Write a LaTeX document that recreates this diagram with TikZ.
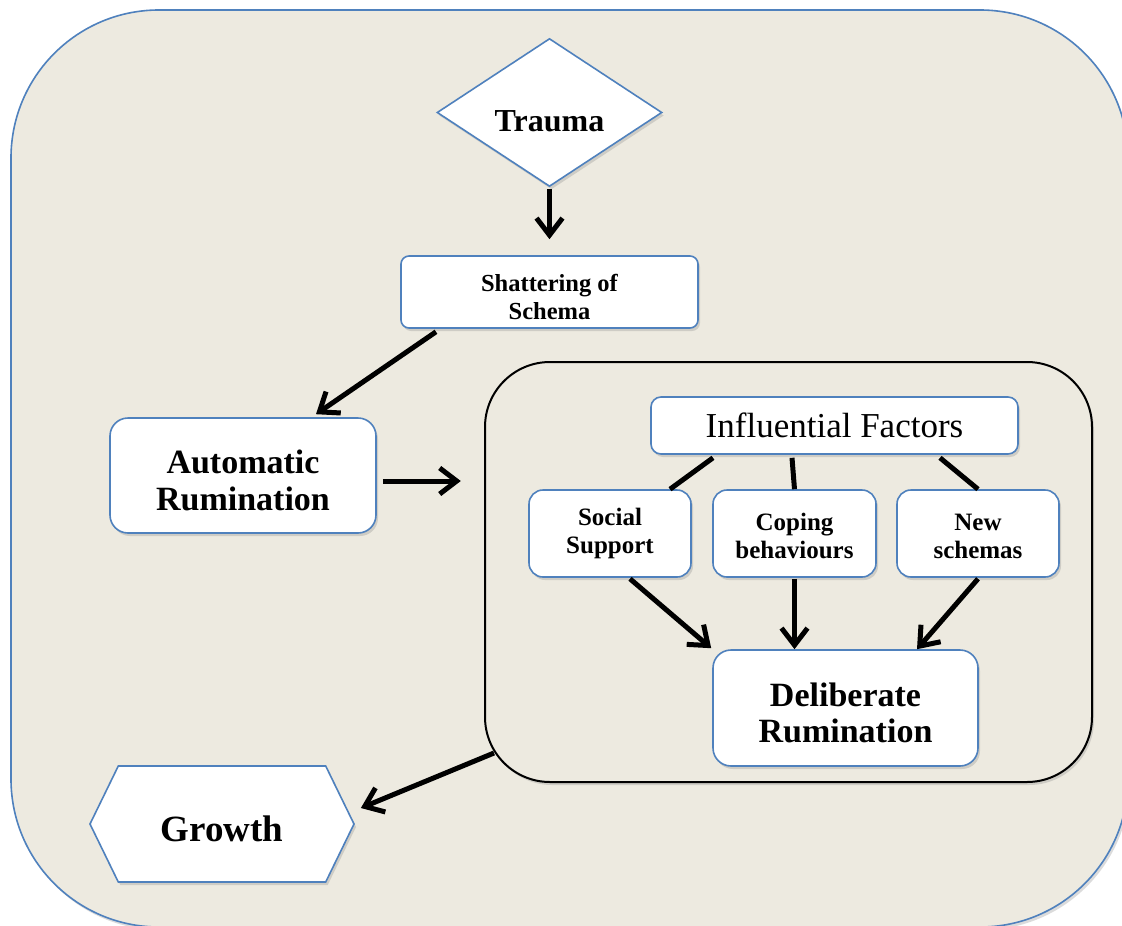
\documentclass[tikz,border=0pt]{standalone}
\usepackage{fontspec}
\setmainfont{Liberation Serif}
\usetikzlibrary{shapes.geometric,shapes.symbols,arrows.meta,shadows,calc}
\definecolor{bg}{HTML}{EDEAE0}
\definecolor{bblue}{HTML}{4F81BD}
\newcommand{\dn}[1]{\rule{0pt}{#1}}
\begin{document}
\begin{tikzpicture}[x=1pt,y=-1pt,
  shd/.style={drop shadow={opacity=0.28,shadow xshift=2pt,shadow yshift=-3pt}},
  box/.style={draw=bblue, line width=1.6pt, fill=white, rounded corners=#1,
    inner sep=0pt, align=center, shd},
  box/.default=12pt,
  arr/.style={line width=5pt, -{Straight Barb[length=17pt,width=26pt,line width=5pt]}},
  ln/.style={line width=5pt},
  fbig/.style={font=\fontsize{34}{36.5}\selectfont\bfseries},
  fmid/.style={font=\fontsize{24.5}{28}\selectfont\bfseries},
  fsm/.style={font=\fontsize{25}{27.5}\selectfont\bfseries},
]
\clip (0,0) rectangle (1122,926);
\fill[white] (0,0) rectangle (1122,926);
% outer panel
\path[draw=bblue, line width=1.6pt, fill=bg, rounded corners=148pt, shd] (11,10) rectangle (1128,927);

% inner frame
\node[draw=black, line width=2pt, fill=bg, rounded corners=65pt, minimum width=607pt,
  minimum height=420pt, inner sep=0pt, shd] (frame) at (788.5,572) {};

% nodes
\node[draw=bblue, line width=1.6pt, fill=white, shape=diamond, minimum width=225pt,
  minimum height=145pt, inner sep=0pt, shd, font=\fontsize{32}{36}\selectfont\bfseries]
  (trauma) at (549.5,112.5) {\dn{38pt}Trauma};
\node[box=8pt, minimum width=297pt, minimum height=72pt, fmid] (shatter) at (549.5,292)
  {\dn{27pt}Shattering of\\Schema};
\node[box=18pt, minimum width=266pt, minimum height=115pt, fbig] (auto) at (243,475.5)
  {\dn{33pt}Automatic\\Rumination};
\node[box=10pt, minimum width=367pt, minimum height=57pt,
  font=\fontsize{35}{38}\selectfont] (influ) at (834.5,425.5) {Influential Factors};
\node[box=14pt, minimum width=162pt, minimum height=87pt, fsm] (social) at (610,533.5)
  {Social\\Support};
\node[box=14pt, minimum width=163pt, minimum height=87pt, fsm] (coping) at (794.5,533.5)
  {\dn{22pt}Coping\\behaviours};
\node[box=14pt, minimum width=162pt, minimum height=87pt, fsm] (newsch) at (978,533.5)
  {\dn{22pt}New\\schemas};
\node[box=18pt, minimum width=265pt, minimum height=116pt, fbig] (delib) at (845.5,708)
  {\dn{33pt}Deliberate\\Rumination};
\node[draw=bblue, line width=1.6pt, fill=white, shape=signal, signal to=west and east,
  signal pointer angle=128, minimum width=264pt, minimum height=116pt, inner sep=0pt,
  shd, font=\fontsize{37}{40}\selectfont\bfseries] (growth) at (222,824) {\dn{36pt}Growth};

% connectors
\draw[arr] ([yshift=-2pt]trauma.south) -- ([yshift=16pt]shatter.north);
\draw[arr] ([shift={(-113.5pt,-3pt)}]shatter.south) -- ([shift={(73pt,3pt)}]auto.north);
\draw[arr] ([shift={(6pt,-5.5pt)}]auto.east) -- ++(78,0);
\draw[ln] ([shift={(-121.5pt,-3pt)}]influ.south) -- ([xshift=60pt]social.north);
\draw[ln] ([shift={(-42.5pt,-3pt)}]influ.south) -- (coping.north);
\draw[ln] ([shift={(105.5pt,-3pt)}]influ.south) -- (newsch.north);
\draw[arr] ([shift={(20pt,-1pt)}]social.south) -- ([shift={(-1pt,1pt)}]delib.north west);
\draw[arr] ([yshift=-1pt]coping.south) -- (coping.south |- delib.north);
\draw[arr] ([yshift=-1pt]newsch.south) -- ([xshift=71.5pt]delib.north);
\draw[arr] ([shift={(10pt,30pt)}]frame.south west) -- ([shift={(6pt,16pt)}]growth.east);
\end{tikzpicture}
\end{document}
